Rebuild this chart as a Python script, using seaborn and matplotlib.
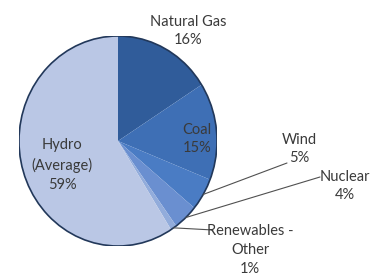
import matplotlib
matplotlib.use("Agg")
import matplotlib.pyplot as plt
import seaborn as sns
from matplotlib.patches import Circle
import numpy as np

# Datos
fuentes = ["Natural Gas", "Coal", "Wind", "Nuclear", "Renewables -\nOther", "Hydro\n(Average)"]
porcentajes = [16, 15, 5, 4, 1, 59]
colores = ["#305c9a", "#3e6fb5", "#4a7cc4", "#6a8fd0", "#92acdb", "#bac7e5"]

sns.set_style("white")
plt.rcParams["font.family"] = ["Lato", "DejaVu Sans"]

fig = plt.figure(figsize=(3.86, 2.8), dpi=100)
W, H = 386, 280
# el pastel es un poco más alto que ancho en la referencia
ax = fig.add_axes([19 / W, (H - 246) / H, 198 / W, 210 / H])
wedges, _ = ax.pie(porcentajes, colors=colores, startangle=90, counterclock=False,
                   radius=1, wedgeprops=dict(linewidth=0))
ax.add_patch(Circle((0, 0), 1, fill=False, edgecolor="#22385a", linewidth=1.2))

txt = dict(fontsize=10.5, color="#3a3a3a", ha="center", va="center", linespacing=1.45)

def etiqueta(i):
    return f"{fuentes[i]}\n{porcentajes[i]}%"

def punto_borde(i, r=1.0):
    w = wedges[i]
    ang = np.deg2rad((w.theta1 + w.theta2) / 2)
    return r * np.cos(ang), r * np.sin(ang)

# etiquetas (posiciones en píxeles de la imagen)
fig.text(188 / W, 1 - 31 / H, etiqueta(0), **txt)
fig.text(197 / W, 1 - 139 / H, etiqueta(1), **txt)
fig.text(62 / W, 1 - 165 / H, etiqueta(5), **txt)

# líneas guía
guia = dict(textcoords="figure pixels", xycoords="data",
            arrowprops=dict(arrowstyle="-", color="#505050", lw=0.8,
                            shrinkA=0, shrinkB=0))
ax.annotate("", xy=punto_borde(2), xytext=(287, H - 163), **guia)
fig.text(299 / W, 1 - 149 / H, etiqueta(2), **txt)
ax.annotate("", xy=punto_borde(3), xytext=(320, H - 177), **guia)
fig.text(345 / W, 1 - 186 / H, etiqueta(3), **txt)
ax.annotate("", xy=punto_borde(4), xytext=(213, H - 230), **guia)
fig.text(250 / W, 1 - 250 / H, etiqueta(4), **txt)

ax.set_axis_off()
ax.set_autoscale_on(False)
ax.set_aspect("auto")
ax.set_xlim(-1, 1)
ax.set_ylim(-1, 1)

fig.savefig("out.png", dpi=100)
